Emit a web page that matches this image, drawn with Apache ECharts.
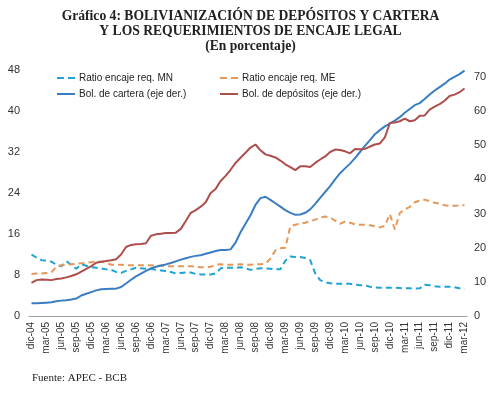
<!DOCTYPE html>
<html><head><meta charset="utf-8">
<script src="https://cdn.jsdelivr.net/npm/echarts@6/dist/echarts.min.js"></script>
<style>html,body{margin:0;padding:0;background:#fff}#c{width:501px;height:393px}</style>
</head><body><div id="c"></div>
<script>
const months = (function(){
  const m=['ene','feb','mar','abr','may','jun','jul','ago','sep','oct','nov','dic'];
  const out=['dic-04'];
  for(let y=5;y<=12;y++){for(let k=0;k<12;k++){out.push(m[k]+'-'+String(y).padStart(2,'0')); if(y===12&&k===2) return out;}}
  return out;
})();
const ratioMN = [12.0,11.4,10.9,10.8,10.6,10.0,9.7,10.7,10.0,9.2,10.1,9.8,9.5,9.4,9.3,9.1,9.0,8.6,8.4,8.8,9.1,9.4,9.3,9.2,9.2,9.0,8.9,8.8,8.6,8.3,8.4,8.5,8.5,8.2,8.1,8.1,8.1,8.3,9.3,9.4,9.4,9.4,9.5,9.3,9.0,9.2,9.3,9.3,9.2,9.1,9.1,10.8,11.6,11.5,11.5,11.3,10.9,8.3,7.0,6.6,6.4,6.3,6.3,6.3,6.3,6.1,6.0,6.0,5.7,5.6,5.5,5.5,5.5,5.5,5.45,5.4,5.4,5.35,5.4,6.1,6.0,5.8,5.7,5.7,5.7,5.6,5.4,5.3];
const ratioME = [8.2,8.3,8.3,8.4,8.5,9.6,9.9,10.0,10.1,10.2,10.3,10.4,10.5,10.6,10.6,10.4,10.0,10.0,10.0,9.9,9.9,9.9,9.9,9.9,9.9,9.8,9.8,9.7,9.7,9.7,9.7,9.7,9.7,9.6,9.5,9.5,9.6,10.0,10.1,10.0,10.0,10.0,10.1,10.0,10.0,10.1,10.1,10.2,11.2,12.8,13.2,13.3,17.5,17.8,18.0,18.2,18.5,18.8,19.2,19.4,19.2,18.6,18.0,18.4,18.2,17.9,17.8,17.8,17.7,17.5,17.3,17.6,19.9,16.9,20.1,20.8,21.3,22.2,22.5,22.7,22.4,22.1,21.9,21.6,21.5,21.5,21.6,21.6];
const bolCartera = [3.7,3.7,3.8,3.9,4.0,4.3,4.5,4.6,4.8,5.1,6.0,6.5,7.0,7.5,7.8,7.9,8.0,8.0,8.5,9.5,10.6,11.6,12.4,13.2,13.9,14.4,14.8,15.1,15.5,16.0,16.5,16.9,17.3,17.6,17.8,18.2,18.6,19.0,19.3,19.3,19.5,21.5,24.5,27.0,29.5,32.5,34.5,34.9,34.0,33.0,32.0,31.0,30.2,29.6,29.7,30.2,31.2,32.8,34.6,36.3,38.0,40.0,41.8,43.2,44.6,46.2,48.0,49.8,51.5,53.2,54.4,55.5,56.3,57.2,58.2,59.5,60.6,61.7,62.3,63.5,64.8,66.0,67.0,68.0,69.2,70.0,70.8,71.8];
const bolDepositos = [9.7,10.5,10.7,10.6,10.5,10.8,11.0,11.3,11.7,12.2,13.0,13.8,14.6,15.6,15.9,16.1,16.3,16.6,18.0,20.2,20.8,21.0,21.1,21.3,23.5,23.9,24.1,24.3,24.3,24.4,25.5,27.8,30.2,31.0,32.0,33.3,36.0,37.2,39.5,41.0,42.8,44.8,46.3,47.8,49.3,50.2,48.5,47.3,46.9,46.4,45.5,44.4,43.6,42.7,43.8,43.8,43.6,44.8,45.8,46.7,48.0,48.7,48.6,48.2,47.6,48.9,48.8,48.9,49.6,50.2,50.5,52.3,56.5,56.6,57.0,57.8,57.0,57.3,58.6,58.7,60.4,61.3,62.0,63.0,64.4,64.8,65.5,66.6];
const names = ['Ratio encaje req. MN','Ratio encaje req. ME','Bol. de cartera (eje der.)','Bol. de depósitos (eje der.)'];

const dashIcon = 'path://M0,0H7V2H0Z M11,0H18V2H11Z';
const solidIcon = 'path://M0,0H18V2H0Z';
const chart = echarts.init(document.getElementById('c'), null, {renderer:'canvas'});
const sans = 'Liberation Sans';
const legendBase = {orient:'vertical', itemWidth:18, itemHeight:2.5, itemGap:6, textStyle:{fontFamily:sans, fontSize:10, color:'#222', padding:[0,0,0,-1]}};
chart.setOption({
  animation:false,
  title:{text:'Gráfico 4: BOLIVIANIZACIÓN DE DEPÓSITOS Y CARTERA\nY LOS REQUERIMIENTOS DE ENCAJE LEGAL\n(En porcentaje)', left:'center', top:4,
    textStyle:{fontFamily:'Liberation Serif', fontSize:13.6, fontWeight:'bold', color:'#222', lineHeight:15, align:'center'}},
  legend:[
    Object.assign({}, legendBase, {left:52, top:68, data:[{name:names[0], icon:dashIcon}, {name:names[2], icon:solidIcon}]}),
    Object.assign({}, legendBase, {left:215, top:68, data:[{name:names[1], icon:dashIcon}, {name:names[3], icon:solidIcon}]})
  ],
  grid:{left:29, right:34, top:70, bottom:77},
  xAxis:{type:'category', data:months, boundaryGap:true,
    axisLine:{lineStyle:{color:'#a0a0a0', width:1}}, axisTick:{show:false},
    axisLabel:{interval:2, rotate:90, fontFamily:sans, fontSize:10, color:'#333', margin:6}},
  yAxis:[
    {type:'value', min:0, max:48, interval:8, splitLine:{show:false}, axisLine:{show:false}, axisTick:{show:false},
      axisLabel:{fontFamily:sans, fontSize:11, color:'#333', margin:9}},
    {type:'value', min:0, max:72, interval:10, splitLine:{show:false}, axisLine:{show:false}, axisTick:{show:false},
      axisLabel:{fontFamily:sans, fontSize:11, color:'#333', margin:7, showMaxLabel:false}}
  ],
  series:[
    {name:names[0], type:'line', yAxisIndex:0, data:ratioMN, showSymbol:false, symbol:'none', color:'#1ea3d6', lineStyle:{width:2, type:[6,4], color:'#1ea3d6'}},
    {name:names[1], type:'line', yAxisIndex:0, data:ratioME, showSymbol:false, symbol:'none', color:'#e4985a', lineStyle:{width:2, type:[6,4], color:'#e4985a'}},
    {name:names[2], type:'line', yAxisIndex:1, data:bolCartera, showSymbol:false, symbol:'none', color:'#3b7dc2', lineStyle:{width:2, color:'#3b7dc2'}},
    {name:names[3], type:'line', yAxisIndex:1, data:bolDepositos, showSymbol:false, symbol:'none', color:'#ae4e4c', lineStyle:{width:2, color:'#ae4e4c'}}
  ],
  graphic:[{type:'text', left:32, top:373, style:{text:'Fuente: APEC - BCB', font:'11px "Liberation Serif"', fill:'#222'}}]
});
</script></body></html>
